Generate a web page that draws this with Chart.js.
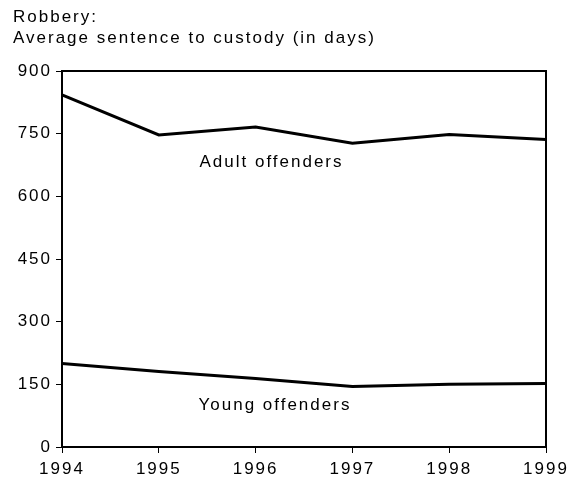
<!DOCTYPE html>
<html>
<head>
<meta charset="utf-8">
<script src="https://cdn.jsdelivr.net/npm/chart.js@4"></script>
<style>
  html, body { margin: 0; padding: 0; background: #fff; }
  canvas { display: block; }
</style>
</head>
<body>
<canvas id="chart" width="583" height="477"></canvas>
<script>
// values
const years = [1994, 1995, 1996, 1997, 1998, 1999];
const adultDays = [843, 747, 766, 727, 748, 736];
const youngDays = [200, 181, 164, 145, 150, 152];
const yTicks = [0, 150, 300, 450, 600, 750, 900];
const titleLines = ['Robbery:', 'Average sentence to custody (in days)'];
const seriesNames = ['Adult offenders', 'Young offenders'];

const FONT = "'Liberation Sans', Arial, Helvetica, sans-serif";

// the reference uses loosely tracked Helvetica-style text
const spacing = {
    id: 'spacing',
    beforeUpdate(chart) { chart.ctx.letterSpacing = '2px'; },
    beforeDraw(chart) { chart.ctx.letterSpacing = '2px'; }
};

// closed box round the plot area
const frame = {
    id: 'frame',
    afterDatasetsDraw(chart) {
        const { ctx, chartArea: a } = chart;
        ctx.save();
        ctx.strokeStyle = '#000';
        ctx.lineWidth = 2;
        ctx.strokeRect(a.left, a.top, a.right - a.left, a.bottom - a.top);
        ctx.restore();
    }
};

// in-chart labels next to each line
const lineLabels = {
    id: 'lineLabels',
    afterDatasetsDraw(chart) {
        const { ctx, scales: { x, y } } = chart;
        ctx.save();
        ctx.letterSpacing = '2px';
        ctx.fillStyle = '#000';
        ctx.font = '17px ' + FONT;
        ctx.textAlign = 'left';
        ctx.textBaseline = 'alphabetic';
        ctx.fillText(seriesNames[0], x.getPixelForValue(1995.42), y.getPixelForValue(671));
        ctx.fillText(seriesNames[1], x.getPixelForValue(1995.41), y.getPixelForValue(88));
        ctx.restore();
    }
};

const toPoints = vals => vals.map((v, i) => ({ x: years[i], y: v }));

new Chart(document.getElementById('chart'), {
    type: 'line',
    data: {
        datasets: [
            {
                label: seriesNames[0],
                data: toPoints(adultDays),
                borderColor: '#000',
                borderWidth: 3,
                pointRadius: 0,
                tension: 0,
                clip: false
            },
            {
                label: seriesNames[1],
                data: toPoints(youngDays),
                borderColor: '#000',
                borderWidth: 3,
                pointRadius: 0,
                tension: 0,
                clip: false
            }
        ]
    },
    options: {
        responsive: false,
        animation: false,
        devicePixelRatio: 1,
        layout: { padding: { left: 13, right: 37, top: 0, bottom: 0 } },
        plugins: {
            legend: { display: false },
            tooltip: { enabled: false },
            title: {
                display: true,
                text: titleLines,
                align: 'start',
                color: '#000',
                font: { family: FONT, size: 17, weight: 'normal', lineHeight: '21px' },
                padding: { top: 7, bottom: 22 }
            }
        },
        scales: {
            x: {
                type: 'linear',
                min: years[0],
                max: years[years.length - 1],
                afterFit: s => { s.height = 30; },
                afterBuildTicks: s => { s.ticks = years.map(v => ({ value: v })); },
                grid: { drawOnChartArea: false, drawTicks: true, tickLength: 6, color: '#000', lineWidth: 1 },
                border: { display: true, color: '#000', width: 2 },
                ticks: {
                    color: '#000',
                    padding: 6,
                    maxRotation: 0,
                    font: { family: FONT, size: 17 },
                    callback: v => String(v)
                }
            },
            y: {
                min: 0,
                max: 900,
                afterFit: s => { s.width = 49; },
                afterBuildTicks: s => { s.ticks = yTicks.map(v => ({ value: v })); },
                grid: { drawOnChartArea: false, drawTicks: true, tickLength: 6, color: '#000', lineWidth: 1 },
                border: { display: true, color: '#000', width: 2 },
                ticks: {
                    color: '#000',
                    padding: 4,
                    font: { family: FONT, size: 17 },
                    callback: v => String(v)
                }
            }
        }
    },
    plugins: [spacing, frame, lineLabels]
});
</script>
</body>
</html>
